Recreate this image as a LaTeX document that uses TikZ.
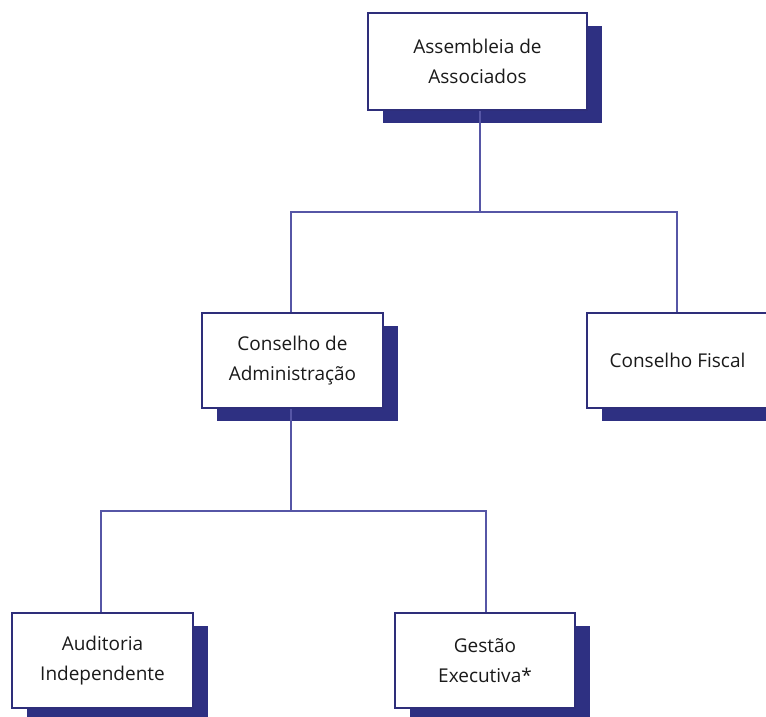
\documentclass[tikz,border=0pt]{standalone}
\usepackage{fontspec}
\setmainfont{Open Sans}
\usetikzlibrary{shadows}
\definecolor{boxline}{HTML}{2E2E7A}
\definecolor{shadowc}{HTML}{2E3082}
\definecolor{connc}{HTML}{5656A6}
\definecolor{textc}{HTML}{1A1A1A}
\tikzset{
  orgbox/.style={draw=boxline, line width=1.8pt, fill=white, align=center,
    minimum width=181pt, minimum height=95pt, inner sep=0pt,
    font=\fontsize{19}{30}\selectfont, text=textc,
    drop shadow={shadow xshift=15pt, shadow yshift=-13pt, fill=shadowc, opacity=1}},
  conn/.style={draw=connc, line width=1.4pt}
}
\begin{document}
\begin{tikzpicture}[x=1pt,y=-1pt]
\useasboundingbox (0,0) rectangle (766,716);
\clip (0,0) rectangle (766,716);
\coordinate (j1) at (480,212);
\coordinate (j2) at (291,511);
\node[orgbox, minimum width=219pt, minimum height=97pt] (a) at (477.5,61.5) {Assembleia de\\Associados};
\node[orgbox] (b) at (292.5,360.5) {Conselho de\\Administração};
\node[orgbox] (c) at (677.5,360.5) {Conselho Fiscal};
\node[orgbox] (d) at (102.5,660.5) {Auditoria\\Independente};
\node[orgbox, minimum width=180pt] (e) at (485,660.5) {Gestão\\Executiva*};
\draw[conn] (a.south -| j1) -- (j1);
\draw[conn] (b.north -| 291,0) |- (j1) -| (c.north -| 677,0);
\draw[conn] (b.south -| j2) -- (j2);
\draw[conn] (d.north -| 101,0) |- (j2) -| (e.north -| 486,0);
\end{tikzpicture}
\end{document}
